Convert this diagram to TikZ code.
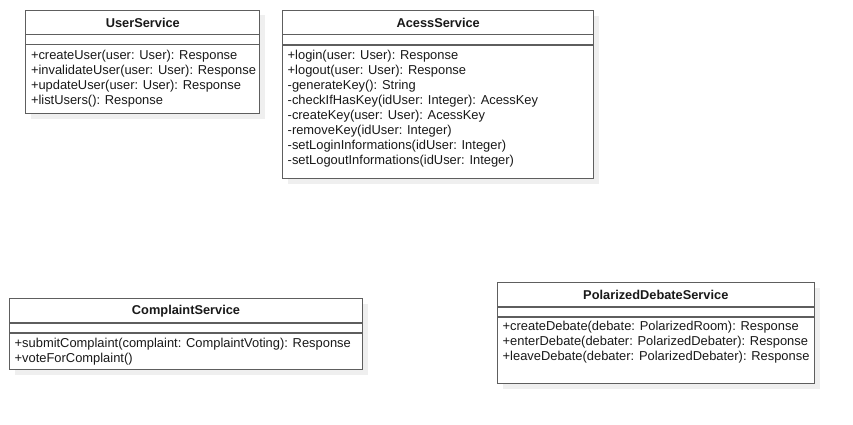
\documentclass[tikz,border=0pt]{standalone}
\usepackage{fontspec}
\setmainfont{Liberation Sans}
\usetikzlibrary{calc}
\definecolor{umlline}{HTML}{5E5E5E}
\definecolor{umlshadow}{HTML}{EFEFEF}
\tikzset{
  classbox/.style={draw=umlline, line width=1.1pt, fill=white, rectangle, inner sep=0pt, anchor=north west},
  shadowbox/.style={fill=umlshadow, draw=none, rectangle, inner sep=0pt, anchor=north west},
  classtitle/.style={font=\fontsize{12.8}{15}\selectfont\bfseries, inner sep=0pt, anchor=center, text=black!90},
  member/.style={font=\fontsize{12.9}{15}\selectfont, inner sep=0pt, anchor=west, text height=9pt, text depth=3pt, text=black!90},
  sepline/.style={draw=umlline, line width=1.1pt}
}
\begin{document}
\begin{tikzpicture}[x=1pt,y=-1pt]
\useasboundingbox[fill=white] (0,0) rectangle (853,424);

% ---------- UserService ----------
\node[shadowbox, minimum width=234pt, minimum height=104pt] (usersh) at (31,15) {};
\node[classbox, minimum width=234pt, minimum height=103.5pt] (user) at (25.3,9.5) {};
\node[classtitle] (usert) at ($(user.north)+(0,13.5)$) {UserService};
\draw[sepline] (user.west |- 0,34.5) -- (user.east |- 0,34.5);
\draw[sepline] (user.west |- 0,44.5) -- (user.east |- 0,44.5);
\node[member] (u1) at (30.8,56) {+createUser(user: User): Response};
\node[member] (u2) at (30.8,71) {+invalidateUser(user: User): Response};
\node[member] (u3) at (30.8,86) {+updateUser(user: User): Response};
\node[member] (u4) at (30.8,101) {+listUsers(): Response};

% ---------- AcessService ----------
\node[shadowbox, minimum width=311pt, minimum height=168pt] (acesssh) at (288,15.5) {};
\node[classbox, minimum width=311.3pt, minimum height=168pt] (acess) at (282,9.5) {};
\node[classtitle] (acesst) at ($(acess.north)+(0,13.5)$) {AcessService};
\draw[sepline] (acess.west |- 0,34.5) -- (acess.east |- 0,34.5);
\draw[sepline] (acess.west |- 0,45) -- (acess.east |- 0,45);
\node[member] (a1) at (287.5,56) {+login(user: User): Response};
\node[member] (a2) at (287.5,71) {+logout(user: User): Response};
\node[member] (a3) at (287.5,86) {-generateKey(): String};
\node[member] (a4) at (287.5,101) {-checkIfHasKey(idUser: Integer): AcessKey};
\node[member] (a5) at (287.5,116) {-createKey(user: User): AcessKey};
\node[member] (a6) at (287.5,131) {-removeKey(idUser: Integer)};
\node[member] (a7) at (287.5,146) {-setLoginInformations(idUser: Integer)};
\node[member] (a8) at (287.5,161) {-setLogoutInformations(idUser: Integer)};

% ---------- ComplaintService ----------
\node[shadowbox, minimum width=353pt, minimum height=71pt] (compsh) at (15,304) {};
\node[classbox, minimum width=353pt, minimum height=71pt] (comp) at (9,298) {};
\node[classtitle] (compt) at ($(comp.north)+(0,12.7)$) {ComplaintService};
\draw[sepline] (comp.west |- 0,323) -- (comp.east |- 0,323);
\draw[sepline] (comp.west |- 0,333) -- (comp.east |- 0,333);
\node[member] (c1) at (14.5,344) {+submitComplaint(complaint: ComplaintVoting): Response};
\node[member] (c2) at (14.5,359) {+voteForComplaint()};

% ---------- PolarizedDebateService ----------
\node[shadowbox, minimum width=316.5pt, minimum height=101pt] (polsh) at (503,288) {};
\node[classbox, minimum width=316.5pt, minimum height=101pt] (pol) at (497,282) {};
\node[classtitle] (polt) at ($(pol.north)+(0,13)$) {PolarizedDebateService};
\draw[sepline] (pol.west |- 0,307) -- (pol.east |- 0,307);
\draw[sepline] (pol.west |- 0,317) -- (pol.east |- 0,317);
\node[member] (p1) at (502.5,327.5) {+createDebate(debate: PolarizedRoom): Response};
\node[member] (p2) at (502.5,342.5) {+enterDebate(debater: PolarizedDebater): Response};
\node[member] (p3) at (502.5,357.5) {+leaveDebate(debater: PolarizedDebater): Response};
\end{tikzpicture}
\end{document}
